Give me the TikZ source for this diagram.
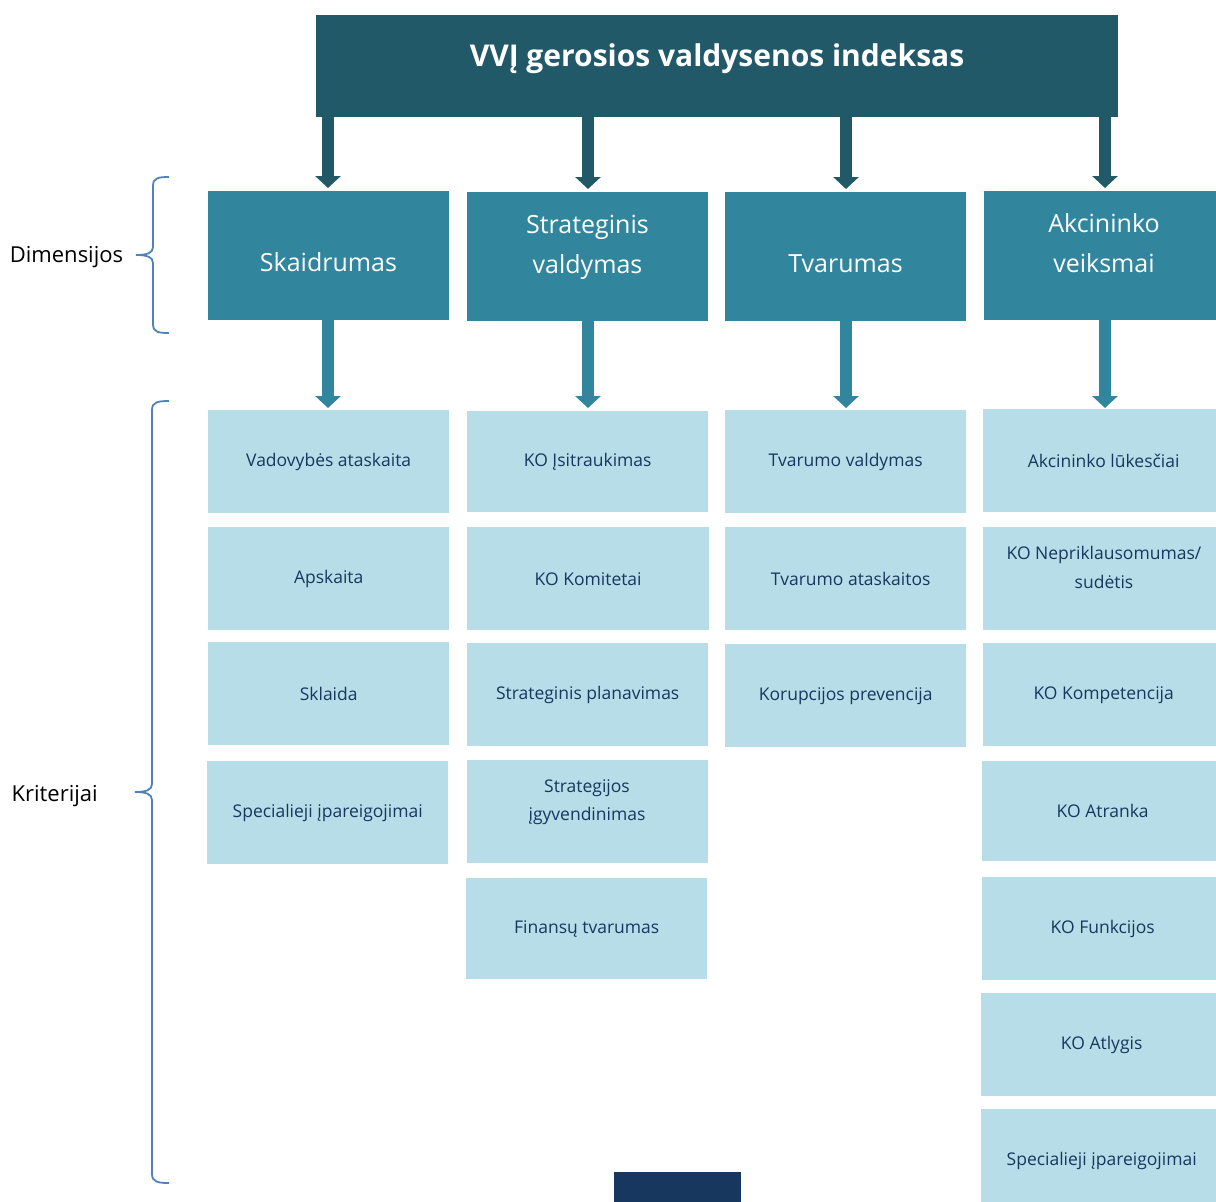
\documentclass[tikz,border=0pt]{standalone}
\usepackage{fontspec}
\setmainfont{Open Sans}
\usetikzlibrary{arrows.meta}
\definecolor{titlec}{HTML}{215968}
\definecolor{dimc}{HTML}{31859C}
\definecolor{critc}{HTML}{B7DEE8}
\definecolor{crittext}{HTML}{17375E}
\definecolor{bracec}{HTML}{4F81BD}
\definecolor{navyc}{HTML}{17375E}
\newcommand{\twolines}[2]{\begin{tabular}[t]{@{}c@{}}#1\\#2\end{tabular}}
\tikzset{
  titlebox/.style={fill=titlec, draw=none, anchor=north west, minimum width=802pt, minimum height=102pt, inner sep=0pt},
  titletext/.style={text=white, anchor=base, inner sep=0pt, font=\fontsize{30}{36}\selectfont\bfseries},
  dimbox/.style={fill=dimc, draw=none, anchor=north west, minimum width=241pt, minimum height=129pt, inner sep=0pt},
  dimtext/.style={text=white, anchor=base, inner sep=0pt, font=\fontsize{25}{40}\selectfont},
  critbox/.style={fill=critc, draw=none, anchor=north west, minimum width=241pt, minimum height=103pt, inner sep=0pt, text=crittext, align=center, font=\fontsize{17.5}{29}\selectfont},
  crittext/.style={text=crittext, anchor=base, inner sep=0pt, font=\fontsize{17.5}{28.7}\selectfont},
  toparrow/.style={draw=titlec, line width=12pt, -{Triangle[width=25pt,length=12pt]}},
  midarrow/.style={draw=dimc, line width=12pt, -{Triangle[width=25pt,length=12pt]}},
  bracestyle/.style={draw=bracec, line width=1.8pt},
  sidelabel/.style={text=black, anchor=base, inner sep=0pt, font=\fontsize{22}{26}\selectfont},
}
\begin{document}
\begin{tikzpicture}[x=1pt, y=-1pt]
\useasboundingbox (0,0) rectangle (1216,1202);
\clip (0,0) rectangle (1216,1202);
% title
\node[titlebox] (title) at (316,15) {};
\node[titletext] (titlelbl) at (717,66) {VVĮ gerosios valdysenos indeksas};
% dimensions
\node[dimbox] (d1) at (208,191) {};
\node[dimbox] (d2) at (467,192) {};
\node[dimbox] (d3) at (725,192) {};
\node[dimbox] (d4) at (984,191) {};
\node[dimtext] (d1t) at (328.5,271) {Skaidrumas};
\node[dimtext] (d2t) at (587.5,233) {\twolines{Strateginis}{valdymas}};
\node[dimtext] (d3t) at (845.5,272) {Tvarumas};
\node[dimtext] (d4t) at (1104,232) {\twolines{Akcininko}{veiksmai}};
% arrows title -> dims
\draw[toparrow] (title.south -| 328,0) -- ([yshift=3pt]d1.north -| 328,0);
\draw[toparrow] (title.south -| 588,0) -- ([yshift=3pt]d2.north -| 588,0);
\draw[toparrow] (title.south -| 846,0) -- ([yshift=3pt]d3.north -| 846,0);
\draw[toparrow] (title.south -| 1105,0) -- ([yshift=3pt]d4.north -| 1105,0);
% criteria column 1
\node[critbox] (c11) at (208,410) {Vadovybės ataskaita};
\node[critbox] (c12) at (208,527) {Apskaita};
\node[critbox] (c13) at (208,642) {Sklaida};
\node[critbox] (c14) at (207,761) {Specialieji įpareigojimai};
% column 2
\node[critbox, minimum height=101pt] (c21) at (467,411) {KO Įsitraukimas};
\node[critbox, minimum width=242pt] (c22) at (467,527) {KO Komitetai};
\node[critbox] (c23) at (467,643) {Strateginis planavimas};
\node[critbox] (c24) at (467,760) {};
\node[crittext] (c24t) at (587,792) {\twolines{Strategijos}{įgyvendinimas}};
\node[critbox, minimum height=101pt] (c25) at (466,878) {Finansų tvarumas};
% column 3
\node[critbox] (c31) at (725,410) {Tvarumo valdymas};
\node[critbox] (c32) at (725,527) {\hspace*{10pt}Tvarumo ataskaitos};
\node[critbox] (c33) at (725,644) {Korupcijos prevencija};
% column 4
\node[critbox] (c41) at (983,409) {Akcininko lūkesčiai};
\node[critbox] (c42) at (983,527) {};
\node[crittext] (c42t) at (1104,559.3) {\twolines{KO Nepriklausomumas/}{sudėtis}};
\node[critbox] (c43) at (983,643) {KO Kompetencija};
\node[critbox, minimum height=100pt] (c44) at (982,761) {KO Atranka};
\node[critbox] (c45) at (982,877) {KO Funkcijos};
\node[critbox] (c46) at (981,993) {KO Atlygis};
\node[critbox, minimum height=104pt] (c47) at (981,1109) {Specialieji įpareigojimai};
% arrows dims -> first criteria
\draw[midarrow] (d1.south -| 328,0) -- ([yshift=2pt]c11.north -| 328,0);
\draw[midarrow] (d2.south -| 588,0) -- ([yshift=3pt]c21.north -| 588,0);
\draw[midarrow] (d3.south -| 846,0) -- ([yshift=2pt]c31.north -| 846,0);
\draw[midarrow] (d4.south -| 1105,0) -- ([yshift=1pt]c41.north -| 1105,0);
% footer block
\node[fill=navyc, draw=none, anchor=north west, minimum width=127pt, minimum height=32pt, inner sep=0pt] (footer) at (614,1172) {};
% braces
\draw[bracestyle] (169,177) .. controls (158,177) and (153,178) .. (153,186) -- (153,247)
  .. controls (153,253) and (147,255) .. (136,255)
  .. controls (147,255) and (153,257) .. (153,263) -- (153,324)
  .. controls (153,332) and (158,333) .. (169,333);
\node[sidelabel] (dimlbl) at (66.5,262) {Dimensijos};
\draw[bracestyle] (169,401) .. controls (158,401) and (152,402) .. (152,410) -- (152,784)
  .. controls (152,790) and (146,792) .. (135,792)
  .. controls (146,792) and (152,794) .. (152,800) -- (152,1174)
  .. controls (152,1182) and (158,1183) .. (169,1183);
\node[sidelabel] (critlbl) at (54.7,801.7) {Kriterijai};
\end{tikzpicture}
\end{document}
